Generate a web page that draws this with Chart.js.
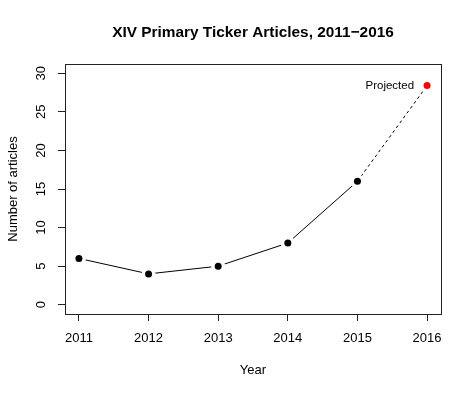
<!DOCTYPE html>
<html lang="en">
<head>
<meta charset="UTF-8">
<title>XIV Primary Ticker Articles, 2011-2016</title>
<script src="https://cdn.jsdelivr.net/npm/chart.js"></script>
<style>
  body { margin: 0; background: #fff; }
</style>
</head>
<body>
<div style="width: 474px; height: 395px;">
  <canvas id="myChart" width="474" height="395"></canvas>
</div>
<script>
// Data
const years = [2011, 2012, 2013, 2014, 2015, 2016];
const articles = [6, 4, 5, 8, 16];   // 2011-2015 actual
const projectedYear = 2016;
const projectedValue = 28.4;
const yTicks = [0, 5, 10, 15, 20, 25, 30];

const FONT = "'Liberation Sans', Arial, sans-serif";

const actualPts = articles.map((v, i) => ({x: years[i], y: v}));
const projPt = {x: projectedYear, y: projectedValue};
const projPts = [actualPts[actualPts.length - 1], projPt];

// box, title, rotated y labels and the "Projected" note, R style
const rDecor = {
  id: 'rDecor',
  afterDraw(chart) {
    const {ctx, chartArea: a, scales} = chart;
    ctx.save();
    ctx.strokeStyle = '#222';
    ctx.lineWidth = 1;
    ctx.strokeRect(Math.round(a.left) + 0.5, Math.round(a.top) + 0.5,
                   Math.round(a.right - a.left), Math.round(a.bottom - a.top));

    ctx.fillStyle = '#000';
    ctx.textAlign = 'center';
    ctx.textBaseline = 'middle';
    ctx.font = 'bold 15.4px ' + FONT;
    ctx.fillText('XIV Primary Ticker Articles, 2011\u22122016', (a.left + a.right) / 2, 33);

    ctx.font = '13px ' + FONT;
    yTicks.forEach(v => {
      ctx.save();
      ctx.translate(41, scales.y.getPixelForValue(v));
      ctx.rotate(-Math.PI / 2);
      ctx.fillText(String(v), 0, 0);
      ctx.restore();
    });

    ctx.font = '11.5px ' + FONT;
    ctx.textAlign = 'right';
    ctx.fillText('Projected', scales.x.getPixelForValue(projectedYear) - 13,
                 scales.y.getPixelForValue(projectedValue));
    ctx.restore();
  }
};

const config = {
  type: 'line',
  data: {
    datasets: [
      { data: actualPts, borderColor: '#000', borderWidth: 1, pointRadius: 0, order: 3 },
      { data: projPts, borderColor: '#000', borderWidth: 1, borderDash: [3, 3], pointRadius: 0, order: 3 },
      // white halo gives the R type="b" gap between line and point
      { data: actualPts.concat([projPt]), showLine: false, pointRadius: 7,
        pointBackgroundColor: '#fff', pointBorderWidth: 0, order: 2 },
      { data: actualPts, showLine: false, pointRadius: 3.5,
        pointBackgroundColor: '#000', pointBorderWidth: 0, order: 1 },
      { data: [projPt], showLine: false, pointRadius: 3.5,
        pointBackgroundColor: '#ff0000', pointBorderWidth: 0, order: 1 }
    ]
  },
  options: {
    responsive: false,
    animation: false,
    layout: { padding: { top: 64, right: 33, left: 0, bottom: 0 } },
    scales: {
      x: {
        type: 'linear',
        min: 2010.8,
        max: 2016.2,
        afterBuildTicks: s => { s.ticks = years.map(v => ({value: v})); },
        afterFit: s => { s.height = 81; },
        border: { display: false },
        grid: { drawOnChartArea: false, tickLength: 7, color: '#222' },
        ticks: { callback: v => String(v), color: '#000', padding: 10,
                 font: { family: FONT, size: 13 } },
        title: { display: true, text: 'Year', color: '#000',
                 font: { family: FONT, size: 13 }, padding: { top: 0, bottom: 17 } }
      },
      y: {
        min: -1.2,
        max: 31.2,
        afterBuildTicks: s => { s.ticks = yTicks.map(v => ({value: v})); },
        afterFit: s => { s.width = 65; },
        border: { display: false },
        grid: { drawOnChartArea: false, tickLength: 7, color: '#222' },
        ticks: { display: false },
        title: { display: true, text: 'Number of articles', color: '#000',
                 font: { family: FONT, size: 13 }, padding: { top: 6, bottom: 0 } }
      }
    },
    plugins: {
      legend: { display: false },
      tooltip: { enabled: false }
    }
  },
  plugins: [rDecor]
};

const ctx = document.getElementById('myChart').getContext('2d');
const myChart = new Chart(ctx, config);
</script>
</body>
</html>
